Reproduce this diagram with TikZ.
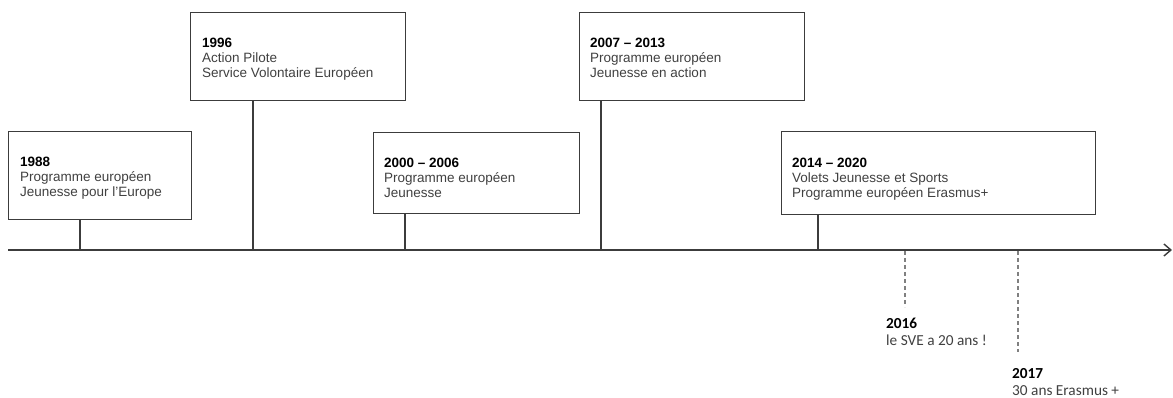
\documentclass[tikz,border=0pt]{standalone}
\usepackage{fontspec}
\setmainfont{Liberation Sans}
\newfontfamily\carlito{Carlito}
\usetikzlibrary{arrows.meta,positioning}
\definecolor{linegray}{HTML}{3C3C3C}
\definecolor{textgray}{HTML}{404040}

\begin{document}
\begin{tikzpicture}[x=1pt,y=-1pt,
				box/.style = {rectangle,draw=linegray,line width=1.4pt,inner sep=0pt,anchor=north west},
				boxtext/.style = {anchor=north west,inner sep=0pt,align=left,text=textgray,font=\fontsize{13.5}{15}\selectfont},
				datetext/.style = {anchor=north west,inner sep=0pt,align=left,text=textgray,font=\carlito\fontsize{15.3}{17}\selectfont},
				stem/.style = {draw=linegray,line width=1.2pt},
				hint/.style = {draw=gray,line width=1.2pt,dash pattern=on 4pt off 3pt},
				axis/.style = {draw=linegray,line width=1.4pt,-{Straight Barb[length=7pt,width=12pt]}}]
				
				\useasboundingbox (0,0) rectangle (1173,398);
				
				% boxes
				\node[box,minimum width=183pt,minimum height=88pt] (b1) at (8,131) {};
				\node[box,minimum width=215pt,minimum height=88pt] (b2) at (190,12) {};
				\node[box,minimum width=206pt,minimum height=81pt] (b3) at (373,132) {};
				\node[box,minimum width=225pt,minimum height=88pt] (b4) at (579,12) {};
				\node[box,minimum width=314pt,minimum height=83pt] (b5) at (781,131) {};
				
				\node[boxtext,below right=26pt and 12pt of b1.north west] (t1) {{\color{black}\bfseries 1988}\\Programme européen\\Jeunesse pour l'Europe};
				\node[boxtext,below right=26pt and 12pt of b2.north west] (t2) {{\color{black}\bfseries 1996}\\Action Pilote\\Service Volontaire Européen};
				\node[boxtext,below right=26pt and 11pt of b3.north west] (t3) {{\color{black}\bfseries 2000 -- 2006}\\Programme européen\\Jeunesse};
				\node[boxtext,below right=26pt and 11pt of b4.north west] (t4) {{\color{black}\bfseries 2007 -- 2013}\\Programme européen\\Jeunesse en action};
				\node[boxtext,below right=27pt and 11pt of b5.north west] (t5) {{\color{black}\bfseries 2014 -- 2020}\\Volets Jeunesse et Sports\\Programme européen Erasmus+};
				
				% time axis
				\coordinate (axstart) at (8,250);
				\coordinate (axend) at (1172,250);
				\draw[axis] (axstart) -- (axend);
				
				\coordinate (s1) at (80,250);
				\coordinate (s2) at (253,250);
				\coordinate (s3) at (405,250);
				\coordinate (s4) at (601,250);
				\coordinate (s5) at (818,250);
				\path[stem]
				(s1) edge (s1 |- b1.south)
				(s2) edge (s2 |- b2.south)
				(s3) edge (s3 |- b3.south)
				(s4) edge (s4 |- b4.south)
				(s5) edge (s5 |- b5.south);
				
				% anniversaries
				\coordinate (d1) at (905,251);
				\coordinate (d1end) at (905,307);
				\coordinate (d2) at (1018,251);
				\coordinate (d2end) at (1018,352);
				\draw[hint] (d1) -- (d1end);
				\draw[hint] (d2) -- (d2end);
				
				\node[datetext] (e1) at (886,318) {{\color{black}\bfseries 2016}\\le SVE a 20 ans !};
				\node[datetext] (e2) at (1012,368) {{\color{black}\bfseries 2017}\\30 ans Erasmus +};
\end{tikzpicture}
\end{document}
